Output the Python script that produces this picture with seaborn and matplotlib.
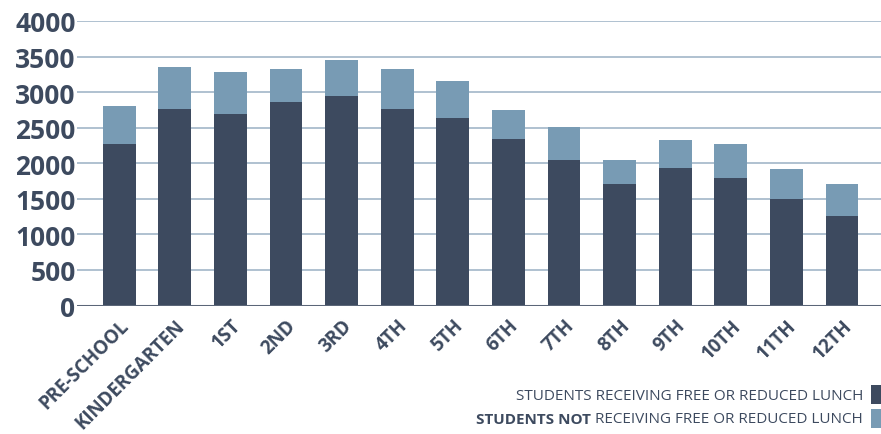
import numpy as np
import pandas as pd
import matplotlib
matplotlib.use('Agg')
import matplotlib.pyplot as plt
import seaborn as sns
from matplotlib.patches import Rectangle

grades = ['PRE-SCHOOL', 'KINDERGARTEN', '1ST', '2ND', '3RD', '4TH', '5TH',
          '6TH', '7TH', '8TH', '9TH', '10TH', '11TH', '12TH']
# students receiving free or reduced lunch
free_lunch = [2265, 2765, 2695, 2865, 2940, 2765, 2640, 2335, 2050, 1710, 1935, 1795, 1500, 1255]
# all students (top of the stack)
total = [2800, 3355, 3285, 3330, 3445, 3330, 3155, 2745, 2505, 2040, 2325, 2270, 1925, 1715]
yticks = [0, 500, 1000, 1500, 2000, 2500, 3000, 3500, 4000]

dark = '#3d4a5f'
light = '#789bb4'
grid_col = '#a9bccd'

df = pd.DataFrame({'grade': grades, 'free': free_lunch, 'total': total})

sns.set_style('white')
plt.rcParams['font.family'] = ['Open Sans', 'DejaVu Sans']

fig = plt.figure(figsize=(8.81, 4.35), dpi=100)
ax = fig.add_axes([77/881, 128.5/435, 1 - 77/881, 284.5/435])

sns.barplot(data=df, x='grade', y='total', color=light, width=0.59,
            saturation=1, linewidth=0, ax=ax, zorder=3)
sns.barplot(data=df, x='grade', y='free', color=dark, width=0.59,
            saturation=1, linewidth=0, ax=ax, zorder=4)

ax.set_ylim(0, 4000)
ax.set_xlim(-0.76, 13.7)
ax.set_yticks(yticks)
ax.set_yticklabels([str(t) for t in yticks], fontsize=19, fontweight='bold', color=dark)
ax.set_xticks(range(len(grades)))
ax.set_xticklabels(grades, rotation=45, ha='right', rotation_mode='anchor',
                   fontsize=13.5, fontweight='bold', color=dark)
ax.tick_params(axis='both', length=0)
ax.tick_params(axis='y', pad=1)
ax.tick_params(axis='x', pad=7)
ax.yaxis.grid(True, color=grid_col, linewidth=1.3, zorder=0)
ax.set_axisbelow(True)
for s in ax.spines.values():
    s.set_visible(False)
ax.axhline(0, color='#5b6678', linewidth=2.2, zorder=5)
ax.set_xlabel('')
ax.set_ylabel('')

# legend at bottom right
x_right = 863/881
fs = 11
fig.text(x_right, 0.088, 'STUDENTS RECEIVING FREE OR REDUCED LUNCH', ha='right', va='center',
         fontsize=fs, fontweight='normal', color=dark)
t2 = fig.text(x_right, 0.0345, ' RECEIVING FREE OR REDUCED LUNCH', ha='right', va='center',
              fontsize=fs, fontweight='normal', color=dark)
fig.canvas.draw()
bb = t2.get_window_extent()
fig.text(bb.x0 / fig.bbox.width, 0.0345, 'STUDENTS NOT', ha='right', va='center',
         fontsize=fs, fontweight='bold', color=dark)
fig.patches.append(Rectangle((871/881, 30/435), 12/881, 19/435, transform=fig.transFigure,
                             facecolor=dark, edgecolor='none'))
fig.patches.append(Rectangle((871/881, 6/435), 12/881, 19/435, transform=fig.transFigure,
                             facecolor=light, edgecolor='none'))

fig.savefig('out.png', dpi=100)
